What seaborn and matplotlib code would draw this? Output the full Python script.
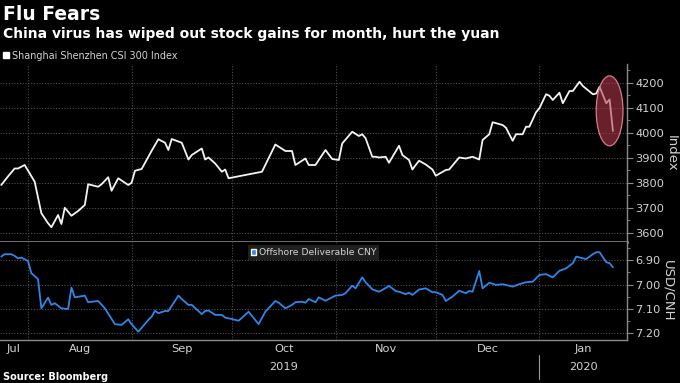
import pandas as pd
import seaborn as sns
import matplotlib.pyplot as plt
import matplotlib.dates as mdates
import matplotlib.transforms as mtransforms
from matplotlib.patches import Ellipse, Patch
from matplotlib.ticker import MultipleLocator, FixedLocator, NullFormatter

# CSI 300 index
csi_dates = [
    "2019-07-24", "2019-07-26", "2019-07-28", "2019-07-29", "2019-07-31",
    "2019-08-03", "2019-08-05", "2019-08-07", "2019-08-08", "2019-08-10",
    "2019-08-11", "2019-08-12", "2019-08-14", "2019-08-16", "2019-08-18",
    "2019-08-19", "2019-08-22", "2019-08-23", "2019-08-25", "2019-08-26",
    "2019-08-28", "2019-08-31", "2019-09-01", "2019-09-02", "2019-09-04",
    "2019-09-07", "2019-09-09", "2019-09-11", "2019-09-12", "2019-09-13",
    "2019-09-16", "2019-09-18", "2019-09-19", "2019-09-22", "2019-09-23",
    "2019-09-24", "2019-09-26", "2019-09-28", "2019-09-29", "2019-09-30",
    "2019-10-10", "2019-10-11", "2019-10-14", "2019-10-17", "2019-10-19",
    "2019-10-20", "2019-10-23", "2019-10-24", "2019-10-26", "2019-10-29",
    "2019-10-31", "2019-11-02", "2019-11-03", "2019-11-06", "2019-11-08",
    "2019-11-09", "2019-11-10", "2019-11-12", "2019-11-13", "2019-11-14",
    "2019-11-16", "2019-11-17", "2019-11-20", "2019-11-21", "2019-11-23",
    "2019-11-24", "2019-11-25", "2019-11-26", "2019-11-28", "2019-11-30",
    "2019-12-01", "2019-12-04", "2019-12-05", "2019-12-08", "2019-12-10",
    "2019-12-12", "2019-12-14", "2019-12-15", "2019-12-17", "2019-12-18",
    "2019-12-21", "2019-12-22", "2019-12-24", "2019-12-25", "2019-12-27",
    "2019-12-28", "2019-12-29", "2019-12-31", "2020-01-01", "2020-01-03",
    "2020-01-04", "2020-01-05", "2020-01-07", "2020-01-08", "2020-01-10",
    "2020-01-11", "2020-01-13", "2020-01-14", "2020-01-17", "2020-01-18",
    "2020-01-19", "2020-01-21", "2020-01-22", "2020-01-23",
]
csi_values = [
    3791, 3825, 3857, 3857, 3871,
    3804, 3678, 3638, 3622, 3671,
    3635, 3700, 3668, 3687, 3711,
    3794, 3784, 3794, 3822, 3768,
    3818, 3791, 3800, 3848, 3855,
    3928, 3974, 3960, 3931, 3975,
    3960, 3893, 3911, 3937, 3893,
    3901, 3877, 3844, 3853, 3818,
    3844, 3871, 3953, 3927, 3927,
    3871, 3897, 3871, 3871, 3931,
    3895, 3891, 3957, 4004, 3987,
    3994, 3978, 3904, 3904, 3901,
    3904, 3880, 3948, 3911, 3891,
    3853, 3871, 3888, 3873, 3853,
    3828, 3851, 3853, 3901, 3897,
    3904, 3893, 3971, 3994, 4042,
    4031, 4020, 3968, 3994, 3994,
    4024, 4024, 4082, 4098, 4154,
    4148, 4131, 4160, 4118, 4167,
    4167, 4204, 4187, 4154, 4157,
    4184, 4118, 4133, 4007,
]

# offshore yuan, USD/CNH
cnh_dates = [
    "2019-07-24", "2019-07-25", "2019-07-27", "2019-07-28", "2019-07-29",
    "2019-07-30", "2019-08-01", "2019-08-02", "2019-08-04", "2019-08-05",
    "2019-08-07", "2019-08-08", "2019-08-09", "2019-08-11", "2019-08-13",
    "2019-08-14", "2019-08-15", "2019-08-18", "2019-08-19", "2019-08-22",
    "2019-08-24", "2019-08-27", "2019-08-29", "2019-08-31", "2019-09-01",
    "2019-09-03", "2019-09-06", "2019-09-07", "2019-09-08", "2019-09-09",
    "2019-09-11", "2019-09-12", "2019-09-15", "2019-09-16", "2019-09-18",
    "2019-09-19", "2019-09-22", "2019-09-23", "2019-09-24", "2019-09-26",
    "2019-09-28", "2019-09-29", "2019-10-01", "2019-10-03", "2019-10-06",
    "2019-10-09", "2019-10-11", "2019-10-14", "2019-10-15", "2019-10-17",
    "2019-10-19", "2019-10-20", "2019-10-22", "2019-10-23", "2019-10-24",
    "2019-10-26", "2019-10-27", "2019-10-29", "2019-10-30", "2019-11-01",
    "2019-11-03", "2019-11-04", "2019-11-06", "2019-11-07", "2019-11-09",
    "2019-11-10", "2019-11-12", "2019-11-14", "2019-11-15", "2019-11-17",
    "2019-11-19", "2019-11-20", "2019-11-22", "2019-11-23", "2019-11-24",
    "2019-11-26", "2019-11-28", "2019-11-30", "2019-12-01", "2019-12-03",
    "2019-12-04", "2019-12-06", "2019-12-08", "2019-12-10", "2019-12-11",
    "2019-12-12", "2019-12-14", "2019-12-15", "2019-12-17", "2019-12-19",
    "2019-12-21", "2019-12-24", "2019-12-26", "2019-12-28", "2019-12-30",
    "2019-12-31", "2020-01-01", "2020-01-03", "2020-01-05", "2020-01-07",
    "2020-01-09", "2020-01-11", "2020-01-12", "2020-01-15", "2020-01-17",
    "2020-01-18", "2020-01-19", "2020-01-21", "2020-01-22", "2020-01-23",
]
cnh_values = [
    6.885, 6.875, 6.875, 6.882, 6.892,
    6.889, 6.903, 6.953, 6.977, 7.097,
    7.053, 7.083, 7.076, 7.097, 7.100,
    7.012, 7.052, 7.045, 7.072, 7.067,
    7.097, 7.162, 7.165, 7.142, 7.162,
    7.193, 7.145, 7.131, 7.107, 7.117,
    7.108, 7.108, 7.045, 7.059, 7.083,
    7.083, 7.121, 7.108, 7.106, 7.124,
    7.124, 7.135, 7.141, 7.148, 7.111,
    7.162, 7.111, 7.067, 7.074, 7.097,
    7.083, 7.072, 7.070, 7.074, 7.059,
    7.072, 7.052, 7.066, 7.059, 7.045,
    7.042, 7.035, 7.004, 7.015, 6.970,
    6.990, 7.019, 7.029, 7.022, 7.005,
    7.026, 7.029, 7.039, 7.033, 7.042,
    7.020, 7.015, 7.031, 7.031, 7.042,
    7.067, 7.049, 7.025, 7.035, 7.026,
    7.029, 6.944, 7.015, 6.992, 7.001,
    6.998, 7.008, 6.998, 6.990, 6.988,
    6.974, 6.960, 6.957, 6.970, 6.943,
    6.933, 6.912, 6.885, 6.895, 6.875,
    6.867, 6.867, 6.908, 6.912, 6.929,
]

csi_ticks = [3600, 3700, 3800, 3900, 4000, 4100, 4200]
cnh_ticks = [6.90, 7.00, 7.10, 7.20]
month_names = ["Jul", "Aug", "Sep", "Oct", "Nov", "Dec", "Jan"]
month_starts = ["2019-08-01", "2019-09-01", "2019-10-01", "2019-11-01", "2019-12-01", "2020-01-01"]
years = {"2019": "Oct", "2020": "Jan"}

x_left = pd.Timestamp("2019-07-23 15:00")
x_right = pd.Timestamp("2020-01-27 05:00")

sns.set_style("dark")
plt.rcParams["font.family"] = ["DejaVu Sans"]

TXT = "#d4d4d4"
GRID = "#505050"
AXC = "#8a8a8a"

fig = plt.figure(figsize=(6.8, 3.83), dpi=100, facecolor="black")
W, H = 680, 383
ax1 = fig.add_axes([0, 1 - 242 / H, 627 / W, (242 - 64) / H])
ax2 = fig.add_axes([0, 1 - 340 / H, 627 / W, (340 - 242) / H])

csi = pd.DataFrame({"date": pd.to_datetime(csi_dates), "value": csi_values})
cnh = pd.DataFrame({"date": pd.to_datetime(cnh_dates), "value": cnh_values})

sns.lineplot(data=csi, x="date", y="value", ax=ax1, color="#f4f4f4", lw=1.3)
sns.lineplot(data=cnh, x="date", y="value", ax=ax2, color="#2f86e8", lw=1.3)

starts = mdates.date2num(pd.to_datetime(month_starts))
edges = [mdates.date2num(x_left)] + list(starts) + [mdates.date2num(x_right)]
mids = [(a + b) / 2 for a, b in zip(edges[:-1], edges[1:])]

for ax in (ax1, ax2):
    ax.set_facecolor("black")
    ax.set_xlim(x_left, x_right)
    ax.xaxis.set_major_locator(FixedLocator(starts))
    ax.xaxis.set_major_formatter(NullFormatter())
    ax.yaxis.tick_right()
    ax.yaxis.set_label_position("right")
    ax.grid(True, which="major", color=GRID, linestyle=(0, (1, 1.5)), lw=0.8)
    ax.set_xlabel("")
    for s in ("left", "top"):
        ax.spines[s].set_visible(False)
    ax.spines["right"].set_color(AXC)
    ax.spines["right"].set_linewidth(1.0)
    ax.tick_params(axis="y", which="major", direction="out", length=4, width=0.8,
                   color=AXC, labelsize=8.2, labelcolor=TXT, pad=2)
    ax.tick_params(axis="y", which="minor", direction="out", length=2, width=0.6, color=AXC)

# top panel
ax1.set_ylim(3563, 4275)
ax1.set_yticks(csi_ticks)
ax1.yaxis.set_minor_locator(MultipleLocator(50))
ax1.tick_params(axis="x", length=0)
ax1.spines["bottom"].set_color("#7a7a7a")
ax1.spines["bottom"].set_linewidth(2.0)
ax1.set_ylabel("Index", rotation=270, color=TXT, fontsize=9.5, labelpad=10)

# ring around the last sell-off
ring = csi.tail(4)
rx0 = mdates.date2num(ring["date"].iloc[0] - pd.Timedelta(days=1))
rx1 = mdates.date2num(ring["date"].iloc[-1] + pd.Timedelta(days=3))
ry0, ry1 = ring["value"].min(), ring["value"].max()
ax1.add_patch(Ellipse(((rx0 + rx1) / 2, (ry0 + ry1) / 2 - 8), rx1 - rx0, (ry1 - ry0) * 1.58,
                      facecolor=(0.70, 0.22, 0.30, 0.58), edgecolor="#d97a8a", lw=0.9, zorder=5))

ax1.legend(handles=[Patch(facecolor="white", label="Shanghai Shenzhen CSI 300 Index")],
           loc="lower left", bbox_to_anchor=(0.0, 1.0), frameon=False, fontsize=6.9,
           labelcolor=TXT, handlelength=0.6, handleheight=0.6, handletextpad=0.3,
           borderaxespad=0.1, borderpad=0.25)

# bottom panel
ax2.set_ylim(7.227, 6.825)
ax2.set_yticks(cnh_ticks)
ax2.set_yticklabels([f"{t:.2f}" for t in cnh_ticks])
ax2.yaxis.set_minor_locator(MultipleLocator(0.05))
ax2.spines["bottom"].set_color(AXC)
ax2.spines["bottom"].set_linewidth(1.0)
ax2.xaxis.set_minor_locator(FixedLocator(mids))
ax2.xaxis.set_minor_formatter(plt.FixedFormatter(month_names))
ax2.tick_params(axis="x", which="major", direction="out", length=3, width=0.8, color=AXC)
ax2.tick_params(axis="x", which="minor", length=0, labelsize=8.2, labelcolor=TXT, pad=3)
ax2.set_ylabel("USD/CNH", rotation=270, color=TXT, fontsize=9.5, labelpad=10)

leg = ax2.legend(handles=[Patch(facecolor="#2f86e8", label="Offshore Deliverable CNY")],
                 loc="upper center", bbox_to_anchor=(0.5, 1.0), frameon=True, fontsize=6.7,
                 labelcolor=TXT, handlelength=0.6, handleheight=0.6, handletextpad=0.3,
                 borderaxespad=0.35, borderpad=0.3, fancybox=False)
leg.get_frame().set_facecolor("#1f1f1f")
leg.get_frame().set_edgecolor("none")
leg.get_frame().set_alpha(1)

trans = mtransforms.blended_transform_factory(ax2.transData, ax2.transAxes)
for yr, mon in years.items():
    ax2.text(mids[month_names.index(mon)], -0.28, yr, transform=trans, ha="center", va="center",
             fontsize=8.2, color=TXT)
ax2.plot([starts[-1], starts[-1]], [-0.15, -0.40], transform=trans, color="#9a9a9a",
         lw=0.8, clip_on=False)

fig.text(0.005, 1 - 15 / H, "Flu Fears", fontsize=13.5, weight="bold", color="white", va="center")
fig.text(0.005, 1 - 34 / H, "China virus has wiped out stock gains for month, hurt the yuan",
         fontsize=10, weight="bold", color="white", va="center")
fig.text(0.005, 1 - 377 / H, "Source: Bloomberg", fontsize=7, weight="bold", color="white",
         va="center")

fig.savefig("out.png", dpi=100, facecolor="black")
